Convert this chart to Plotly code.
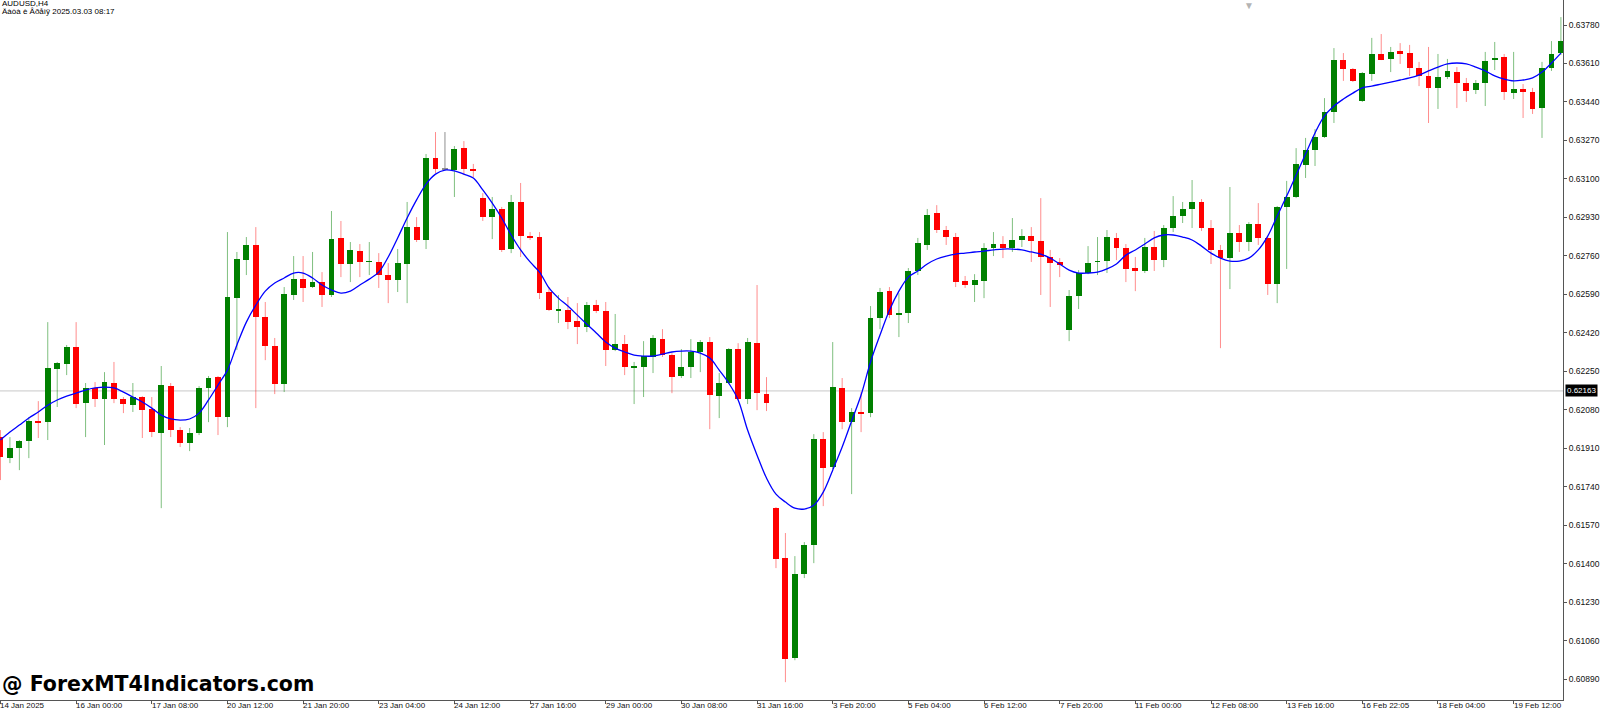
import plotly.graph_objects as go

# AUDUSD H4, bars (oldest first)
opens = [0.61959, 0.61866, 0.61910, 0.61941, 0.62030, 0.62025, 0.62260, 0.62282, 0.62357, 0.62109,
         0.62176, 0.62127, 0.62198, 0.62127, 0.62100, 0.62136, 0.62083, 0.61977, 0.62184, 0.61990,
         0.61932, 0.61977, 0.62176, 0.62224, 0.62047, 0.62573, 0.62741, 0.62808, 0.62489, 0.62361,
         0.62193, 0.62587, 0.62657, 0.62622, 0.62644, 0.62587, 0.62839, 0.62724, 0.62781, 0.62733,
         0.62733, 0.62675, 0.62653, 0.62724, 0.62887, 0.62830, 0.63192, 0.63143, 0.63139, 0.63236,
         0.63143, 0.63015, 0.62931, 0.62967, 0.62790, 0.62998, 0.62847, 0.62843, 0.62600, 0.62516,
         0.62520, 0.62472, 0.62445, 0.62542, 0.62516, 0.62344, 0.62370, 0.62268, 0.62268, 0.62313,
         0.62392, 0.62321, 0.62229, 0.62268, 0.62335, 0.62379, 0.62140, 0.62198, 0.62348, 0.62127,
         0.62374, 0.62149, 0.61645, 0.61424, 0.60982, 0.61353, 0.61482, 0.61950, 0.61826, 0.62176,
         0.62025, 0.62070, 0.62065, 0.62485, 0.62604, 0.62498, 0.62507, 0.62693, 0.62808, 0.62949,
         0.62874, 0.62843, 0.62649, 0.62631, 0.62649, 0.62794, 0.62812, 0.62794, 0.62830, 0.62847,
         0.62825, 0.62755, 0.62733, 0.62432, 0.62582, 0.62684, 0.62733, 0.62737, 0.62839, 0.62794,
         0.62706, 0.62693, 0.62799, 0.62741, 0.62883, 0.62936, 0.62967, 0.62998, 0.62883, 0.62786,
         0.62750, 0.62861, 0.62821, 0.62900, 0.62839, 0.62635, 0.62976, 0.63020, 0.63161, 0.63228,
         0.63285, 0.63396, 0.63625, 0.63586, 0.63444, 0.63563, 0.63652, 0.63630, 0.63665, 0.63656,
         0.63590, 0.63555, 0.63502, 0.63550, 0.63572, 0.63524, 0.63493, 0.63524, 0.63625, 0.63639,
         0.63479, 0.63497, 0.63484, 0.63413, 0.63590, 0.63656]

highs = [0.61990, 0.61959, 0.61946, 0.62047, 0.62118, 0.62467, 0.62291, 0.62366, 0.62467, 0.62198,
         0.62202, 0.62246, 0.62291, 0.62136, 0.62198, 0.62140, 0.62136, 0.62273, 0.62198, 0.62003,
         0.61999, 0.62184, 0.62229, 0.62229, 0.62865, 0.62777, 0.62843, 0.62887, 0.62556, 0.62397,
         0.62622, 0.62759, 0.62759, 0.62777, 0.62688, 0.62958, 0.62914, 0.62821, 0.62812, 0.62821,
         0.62772, 0.62728, 0.62790, 0.62998, 0.62931, 0.63210, 0.63307, 0.63307, 0.63245, 0.63267,
         0.63166, 0.63037, 0.63020, 0.62976, 0.63029, 0.63082, 0.62865, 0.62865, 0.62622, 0.62587,
         0.62578, 0.62551, 0.62556, 0.62565, 0.62556, 0.62503, 0.62410, 0.62291, 0.62383, 0.62410,
         0.62436, 0.62330, 0.62348, 0.62392, 0.62388, 0.62401, 0.62242, 0.62352, 0.62374, 0.62397,
         0.62631, 0.62224, 0.61650, 0.61535, 0.61433, 0.61495, 0.61972, 0.61981, 0.62379, 0.62220,
         0.62087, 0.62158, 0.62538, 0.62618, 0.62622, 0.62595, 0.62706, 0.62839, 0.62967, 0.62984,
         0.62892, 0.62861, 0.62671, 0.62679, 0.62816, 0.62865, 0.62847, 0.62927, 0.62878, 0.62887,
         0.63015, 0.62786, 0.62750, 0.62609, 0.62697, 0.62803, 0.62843, 0.62874, 0.62861, 0.62812,
         0.62755, 0.62839, 0.62870, 0.62896, 0.63024, 0.62998, 0.63095, 0.63011, 0.62918, 0.62808,
         0.63064, 0.62896, 0.62909, 0.62993, 0.62843, 0.62980, 0.63091, 0.63236, 0.63281, 0.63320,
         0.63457, 0.63678, 0.63656, 0.63590, 0.63572, 0.63723, 0.63740, 0.63683, 0.63700, 0.63692,
         0.63617, 0.63683, 0.63652, 0.63630, 0.63594, 0.63546, 0.63537, 0.63661, 0.63705, 0.63652,
         0.63661, 0.63519, 0.63502, 0.63617, 0.63709, 0.63815]

lows = [0.61769, 0.61844, 0.61813, 0.61866, 0.61955, 0.61946, 0.62092, 0.62233, 0.62087, 0.61959,
        0.62092, 0.61924, 0.62109, 0.62065, 0.62070, 0.61955, 0.61959, 0.61645, 0.61959, 0.61915,
        0.61897, 0.61968, 0.62025, 0.61968, 0.62003, 0.62344, 0.62675, 0.62087, 0.62299, 0.62149,
        0.62158, 0.62565, 0.62556, 0.62618, 0.62534, 0.62578, 0.62666, 0.62644, 0.62666, 0.62675,
        0.62618, 0.62551, 0.62600, 0.62551, 0.62821, 0.62790, 0.63126, 0.63139, 0.63020, 0.63117,
        0.63108, 0.62914, 0.62834, 0.62777, 0.62772, 0.62755, 0.62830, 0.62569, 0.62516, 0.62463,
        0.62436, 0.62370, 0.62423, 0.62507, 0.62273, 0.62339, 0.62233, 0.62105, 0.62136, 0.62242,
        0.62313, 0.62153, 0.62220, 0.62220, 0.62246, 0.61994, 0.62043, 0.62193, 0.62123, 0.62105,
        0.62078, 0.62074, 0.61380, 0.60876, 0.60973, 0.61336, 0.61402, 0.61654, 0.61818, 0.61994,
        0.61707, 0.61981, 0.62047, 0.62436, 0.62485, 0.62401, 0.62463, 0.62675, 0.62786, 0.62861,
        0.62808, 0.62622, 0.62618, 0.62556, 0.62573, 0.62759, 0.62750, 0.62777, 0.62799, 0.62733,
        0.62587, 0.62534, 0.62666, 0.62383, 0.62525, 0.62679, 0.62675, 0.62684, 0.62741, 0.62644,
        0.62604, 0.62684, 0.62693, 0.62710, 0.62865, 0.62905, 0.62883, 0.62870, 0.62724, 0.62352,
        0.62613, 0.62777, 0.62781, 0.62808, 0.62587, 0.62551, 0.62702, 0.63015, 0.63104, 0.63157,
        0.63281, 0.63347, 0.63533, 0.63528, 0.63440, 0.63533, 0.63625, 0.63572, 0.63608, 0.63555,
        0.63510, 0.63347, 0.63409, 0.63541, 0.63413, 0.63440, 0.63475, 0.63422, 0.63581, 0.63449,
        0.63453, 0.63369, 0.63387, 0.63281, 0.63577, 0.63647]

closes = [0.61871, 0.61910, 0.61941, 0.62030, 0.62025, 0.62264, 0.62286, 0.62357, 0.62105, 0.62176,
          0.62127, 0.62202, 0.62127, 0.62105, 0.62136, 0.62078, 0.61981, 0.62189, 0.61990, 0.61932,
          0.61977, 0.62176, 0.62220, 0.62047, 0.62578, 0.62746, 0.62808, 0.62489, 0.62361, 0.62193,
          0.62591, 0.62657, 0.62618, 0.62644, 0.62587, 0.62834, 0.62724, 0.62786, 0.62733, 0.62737,
          0.62675, 0.62653, 0.62728, 0.62887, 0.62830, 0.63192, 0.63143, 0.63143, 0.63232, 0.63143,
          0.63135, 0.62931, 0.62967, 0.62786, 0.62998, 0.62847, 0.62843, 0.62595, 0.62520, 0.62525,
          0.62467, 0.62445, 0.62542, 0.62516, 0.62344, 0.62370, 0.62268, 0.62273, 0.62317, 0.62397,
          0.62321, 0.62224, 0.62268, 0.62335, 0.62379, 0.62145, 0.62198, 0.62348, 0.62127, 0.62379,
          0.62153, 0.62109, 0.61420, 0.60978, 0.61353, 0.61482, 0.61950, 0.61822, 0.62180, 0.62025,
          0.62070, 0.62065, 0.62485, 0.62600, 0.62498, 0.62507, 0.62693, 0.62816, 0.62940, 0.62874,
          0.62843, 0.62644, 0.62631, 0.62653, 0.62794, 0.62812, 0.62794, 0.62830, 0.62847, 0.62825,
          0.62755, 0.62728, 0.62719, 0.62582, 0.62684, 0.62728, 0.62737, 0.62843, 0.62794, 0.62702,
          0.62693, 0.62799, 0.62741, 0.62883, 0.62936, 0.62967, 0.62998, 0.62883, 0.62786, 0.62750,
          0.62861, 0.62821, 0.62900, 0.62839, 0.62635, 0.62976, 0.63020, 0.63166, 0.63228, 0.63285,
          0.63396, 0.63625, 0.63586, 0.63533, 0.63568, 0.63652, 0.63625, 0.63661, 0.63652, 0.63590,
          0.63555, 0.63502, 0.63550, 0.63577, 0.63524, 0.63488, 0.63524, 0.63621, 0.63634, 0.63484,
          0.63497, 0.63484, 0.63409, 0.63590, 0.63652, 0.63709]

# smoothed indicator line (blue)
smooth = [0.61946, 0.61981, 0.62012, 0.62043, 0.62070, 0.62100, 0.62123, 0.62140, 0.62153, 0.62167,
          0.62176, 0.62180, 0.62176, 0.62158, 0.62136, 0.62114, 0.62087, 0.62056, 0.62039, 0.62034,
          0.62039, 0.62065, 0.62123, 0.62189, 0.62255, 0.62366, 0.62467, 0.62542, 0.62604, 0.62640,
          0.62662, 0.62684, 0.62684, 0.62662, 0.62631, 0.62609, 0.62595, 0.62604, 0.62631, 0.62657,
          0.62688, 0.62755, 0.62839, 0.62927, 0.63007, 0.63077, 0.63121, 0.63139, 0.63135, 0.63121,
          0.63104, 0.63051, 0.62993, 0.62927, 0.62852, 0.62786, 0.62733, 0.62688, 0.62618, 0.62573,
          0.62538, 0.62498, 0.62458, 0.62419, 0.62379, 0.62352, 0.62335, 0.62321, 0.62317, 0.62317,
          0.62326, 0.62335, 0.62339, 0.62339, 0.62330, 0.62308, 0.62255, 0.62198, 0.62123, 0.61990,
          0.61879, 0.61778, 0.61707, 0.61672, 0.61645, 0.61641, 0.61658, 0.61716, 0.61813, 0.61915,
          0.62030, 0.62145, 0.62291, 0.62410, 0.62520, 0.62604, 0.62666, 0.62693, 0.62724, 0.62746,
          0.62759, 0.62768, 0.62772, 0.62777, 0.62781, 0.62786, 0.62790, 0.62790, 0.62786, 0.62777,
          0.62768, 0.62750, 0.62724, 0.62697, 0.62684, 0.62684, 0.62688, 0.62702, 0.62724, 0.62763,
          0.62786, 0.62812, 0.62839, 0.62852, 0.62852, 0.62843, 0.62830, 0.62803, 0.62772, 0.62750,
          0.62737, 0.62737, 0.62750, 0.62786, 0.62847, 0.62936, 0.63024, 0.63117, 0.63210, 0.63303,
          0.63378, 0.63422, 0.63453, 0.63479, 0.63502, 0.63510, 0.63519, 0.63528, 0.63537, 0.63546,
          0.63559, 0.63577, 0.63594, 0.63608, 0.63612, 0.63608, 0.63594, 0.63577, 0.63555, 0.63541,
          0.63533, 0.63537, 0.63546, 0.63572, 0.63612, 0.63656]

# time axis labels, one every 8 bars
time_labels = ['14 Jan 2025', '16 Jan 00:00', '17 Jan 08:00', '20 Jan 12:00', '21 Jan 20:00',
               '23 Jan 04:00', '24 Jan 12:00', '27 Jan 16:00', '29 Jan 00:00', '30 Jan 08:00',
               '31 Jan 16:00', '3 Feb 20:00', '5 Feb 04:00', '6 Feb 12:00', '7 Feb 20:00',
               '11 Feb 00:00', '12 Feb 08:00', '13 Feb 16:00', '16 Feb 22:05', '18 Feb 04:00',
               '19 Feb 12:00']
label_step = 8

hline_price = 0.62163
shift_bar = 132
symbol = 'AUDUSD,H4'
stamp = 'Äàòà è Âðåìÿ 2025.03.03 08:17'

GREEN = '#008000'
RED = '#ff0000'
GRAY = '#909090'

n = len(opens)
idx = list(range(n))

def bar_color(o, c):
    if c > o:
        return GREEN
    if c < o:
        return RED
    return GRAY

colors = [bar_color(o, c) for o, c in zip(opens, closes)]

def wicks(color):
    xs, ys = [], []
    for i in idx:
        if colors[i] == color:
            xs += [i, i, None]
            ys += [lows[i], highs[i], None]
    return xs, ys

fig = go.Figure()

for col, wcol in [(GREEN, 'rgba(0,128,0,0.5)'), (RED, 'rgba(255,0,0,0.45)'), (GRAY, GRAY)]:
    wx, wy = wicks(col)
    fig.add_trace(go.Scatter(x=wx, y=wy, mode='lines', line=dict(color=wcol, width=1),
                             hoverinfo='skip', showlegend=False))

# bodies; a doji still gets a thin line
base = [min(o, c) for o, c in zip(opens, closes)]
height = [max(abs(c - o), 0.00003) for o, c in zip(opens, closes)]
fig.add_trace(go.Bar(x=idx, y=height, base=base, width=0.62,
                     marker=dict(color=colors, line=dict(width=0)), showlegend=False))

fig.add_trace(go.Scatter(x=idx, y=smooth, mode='lines', line=dict(color='#0000ff', width=1.3, shape='spline'),
                         showlegend=False))

fig.add_shape(type='line', xref='paper', x0=0, x1=1, yref='y', y0=hline_price, y1=hline_price,
              line=dict(color='#c8c8c8', width=1), layer='below')

tick_idx = [k * label_step for k in range(len(time_labels))]
for t, lab in zip(tick_idx, time_labels):
    fig.add_annotation(x=t, y=0, xref='x', yref='paper', text=lab, showarrow=False,
                       xanchor='left', yanchor='top', xshift=-2, yshift=1,
                       font=dict(family='Liberation Sans', size=8, color='#111'))

fig.add_annotation(x=1, y=hline_price, xref='paper', yref='y', text=f'{hline_price:.5f}',
                   showarrow=False, xanchor='left', xshift=2, bgcolor='#000000', borderpad=1,
                   font=dict(family='Liberation Sans', size=8, color='#ffffff'))

fig.add_annotation(x=0, y=1, xref='paper', yref='paper', text=symbol, showarrow=False,
                   xanchor='left', yanchor='top', xshift=0, yshift=3,
                   font=dict(family='Liberation Sans', size=8, color='#000'))
fig.add_annotation(x=0, y=1, xref='paper', yref='paper', text=stamp, showarrow=False,
                   xanchor='left', yanchor='top', xshift=0, yshift=-5,
                   font=dict(family='Liberation Sans', size=8, color='#000'))

fig.add_annotation(x=0, y=0, xref='paper', yref='paper', text='<b>@ ForexMT4Indicators.com</b>',
                   showarrow=False, xanchor='left', yanchor='bottom', xshift=0, yshift=2,
                   font=dict(family='DejaVu Sans', size=20.5, color='#000'))

# chart shift marker at the top edge
fig.add_annotation(x=shift_bar, y=1, xref='x', yref='paper', text='▼', showarrow=False,
                   yanchor='top', yshift=3, borderpad=0, font=dict(size=10, color='#b4b4b4'))

fig.update_layout(
    width=1600, height=712,
    margin=dict(l=0, r=37, t=0, b=12),
    paper_bgcolor='white', plot_bgcolor='white',
    bargap=0, showlegend=False,
)
fig.update_xaxes(range=[-0.05, 165.22], showgrid=False, zeroline=False,
                 showline=True, linecolor='#555', linewidth=1,
                 tickmode='array', tickvals=tick_idx, showticklabels=False,
                 ticks='outside', ticklen=3, tickcolor='#555')
fig.update_yaxes(range=[0.607972, 0.638905], side='right', showgrid=False, zeroline=False,
                 showline=True, linecolor='#555', linewidth=1,
                 tick0=0.6089, dtick=0.0017, tickformat='.5f',
                 ticks='outside', ticklen=3, tickcolor='#555',
                 tickfont=dict(family='Liberation Sans', size=8.5, color='#111'))

# the page's default body margin would push the chart off the window
fig.write_html('out.html', config={'displayModeBar': False},
               post_script="document.body.style.margin='0';")
